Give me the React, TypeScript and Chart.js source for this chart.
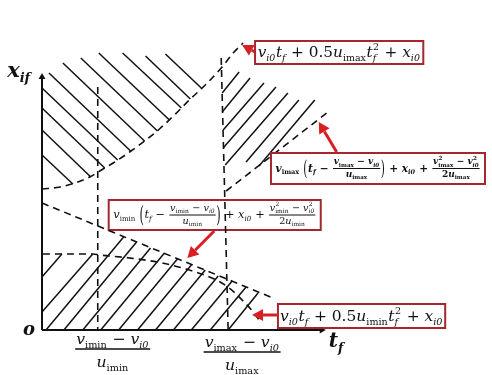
import React, { useEffect, useRef } from 'react';
import { Chart, registerables } from 'chart.js';

Chart.register(...registerables);

// ---------- curve data (t_f on x, x_if on y) ----------
const upperParabolaT = [0, 1.8, 3.3, 4.8, 5.8, 7.3, 8.8, 10.3, 11.8, 13.3, 14.8, 16.3, 18.0, 19.3, 20.2];
const upperParabolaX = [14.1, 14.3, 14.7, 15.3, 15.9, 16.8, 17.8, 18.9, 20.1, 21.5, 23.0, 24.4, 26.2, 27.8, 28.7];
const lowerParabolaT = [0.1, 2.8, 5.1, 5.8, 8.8, 12.1, 14.8, 17.3, 18.8, 20.1, 21.3, 22.0];
const lowerParabolaX = [7.6, 7.6, 7.6, 7.5, 7.2, 6.7, 6.0, 5.1, 4.2, 3.0, 1.7, 0.7];
const vmaxLineT = [18.5, 28.6];
const vmaxLineX = [13.9, 21.7];
const vminLineT = [0, 23.2];
const vminLineX = [12.7, 3.2];
const tMinLineT = [5.6, 5.6];
const tMinLineX = [24.3, 0];
const tMaxLineT = [18.0, 18.7];
const tMaxLineX = [27.2, 0];
const yAxisT = [0, 0];
const yAxisX = [0, 25.3];
const xAxisT = [0, 28.1];
const xAxisX = [0, 0];

// hatch segments [t1, x1, t2, x2]
const hatchUpperLeft = [
  [0, 17.5, 3.1, 14.6],
  [0, 20.0, 4.9, 15.3],
  [0, 22.2, 6.3, 16.2],
  [0, 24.2, 7.6, 17.0],
  [0.7, 25.7, 8.9, 17.9],
  [2.1, 26.7, 10.3, 18.9],
  [3.9, 27.2, 11.6, 19.9],
  [5.7, 27.7, 12.8, 21.0],
  [8.1, 27.7, 14.0, 22.2],
  [10.4, 27.4, 14.9, 23.1],
  [12.4, 27.6, 16.0, 24.2],
];
const hatchUpperRight = [
  [18.1, 23.7, 19.8, 25.8],
  [18.1, 21.8, 20.9, 25.2],
  [18.2, 20.0, 22.3, 24.7],
  [18.2, 18.2, 23.5, 24.3],
  [18.4, 16.5, 24.7, 23.7],
  [20.5, 16.8, 25.8, 23.0],
  [21.8, 16.4, 27.4, 23.0],
];
const hatchLower = [
  [0, 5.3, 2.0, 7.6],
  [0, 1.8, 5.1, 7.6],
  [0.4, 0, 8.2, 9.3],
  [2.2, 0, 9.5, 8.8],
  [4.1, 0, 10.9, 8.2],
  [5.9, 0, 12.3, 7.7],
  [7.7, 0, 13.6, 7.1],
  [9.6, 0, 15.0, 6.5],
  [11.4, 0, 16.4, 6.0],
  [13.2, 0, 17.7, 5.4],
  [15.0, 0, 19.1, 4.9],
  [16.9, 0, 20.5, 4.3],
  [18.7, 0, 21.7, 3.7],
];

// ---------- annotation layout (data units) ----------
const BOX1 = { t0: 21.4, t1: 38.3, y0: 28.9, y1: 26.6, w: 163 };
const BOX2 = { t0: 23.0, t1: 44.5, y0: 17.7, y1: 14.6, w: 205 };
const BOX3 = { t0: 6.7, t1: 28.0, y0: 13.0, y1: 10.0, w: 203 };
const BOX4 = { t0: 23.7, t1: 40.5, y0: 2.6, y1: 0.2, w: 163 };
const ARROWS = [
  [21.4, 27.8, 20.1, 28.5],
  [29.6, 17.8, 27.8, 20.8],
  [17.3, 9.9, 14.6, 7.2],
  [23.8, 1.5, 21.1, 1.5],
];

const FONT_FAMILY = '"DejaVu Serif", "Liberation Serif", serif';
const INK = '#111111';
const BOX_STROKE = '#A3282D';
const ARROW_RED = '#D71F26';

// ---------- tiny math layout ----------
const I = (t: string) => ({ k: 't', t, it: true });
const R = (t: string) => ({ k: 't', t, it: false });
const SS = (sup: any, sub: any) => ({ k: 'ss', sup, sub });
const FR = (num: any[], den: any[]) => ({ k: 'fr', num, den });
const P = (t: string) => ({ k: 'p', t });

function layout(ctx: CanvasRenderingContext2D, nodes: any[], x: number, y: number, F: number, bold: boolean, draw: boolean): number {
  let cx = x;
  for (const n of nodes) {
    if (n.k === 't') {
      ctx.font = `${n.it ? 'italic ' : ''}${bold ? 'bold ' : ''}${F}px ${FONT_FAMILY}`;
      const w = ctx.measureText(n.t).width;
      if (draw) ctx.fillText(n.t, cx, y);
      cx += w;
    } else if (n.k === 'ss') {
      const s = 0.62;
      let w = 0;
      if (n.sup) w = Math.max(w, layout(ctx, n.sup, cx + 0.03 * F, y - 0.45 * F, F * s, bold, draw) + 0.03 * F);
      if (n.sub) w = Math.max(w, layout(ctx, n.sub, cx, y + 0.25 * F, F * s, bold, draw));
      cx += w + 0.04 * F;
    } else if (n.k === 'fr') {
      const fs = F * 0.85;
      const wn = layout(ctx, n.num, 0, 0, fs, bold, false);
      const wd = layout(ctx, n.den, 0, 0, fs, bold, false);
      const pad = 0.12 * F;
      const w = Math.max(wn, wd) + 2 * pad;
      if (draw) {
        const barY = y - 0.3 * F;
        layout(ctx, n.num, cx + (w - wn) / 2, barY - 0.38 * F, fs, bold, true);
        layout(ctx, n.den, cx + (w - wd) / 2, barY + 0.8 * F, fs, bold, true);
        ctx.fillRect(cx + pad * 0.5, barY - 0.5, w - pad, 1);
      }
      cx += w;
    } else if (n.k === 'p') {
      ctx.font = `${F}px ${FONT_FAMILY}`;
      const w = ctx.measureText(n.t).width;
      if (draw) {
        ctx.save();
        ctx.translate(cx, y + 0.33 * F);
        ctx.scale(1, 2.0);
        ctx.fillText(n.t, 0, 0);
        ctx.restore();
      }
      cx += w + 0.05 * F;
    }
  }
  return cx - x;
}

function fitSize(ctx: CanvasRenderingContext2D, nodes: any[], bold: boolean, target: number) {
  const w0 = layout(ctx, nodes, 0, 0, 20, bold, false);
  return (20 * target) / w0;
}

const exprBox1 = [I('v'), SS(null, [I('i0')]), I('t'), SS(null, [I('f')]), R(' + 0.5'), I('u'), SS(null, [R('imax')]), I('t'), SS([R('2')], [I('f')]), R(' + '), I('x'), SS(null, [I('i0')])];
const exprBox4 = [I('v'), SS(null, [I('i0')]), I('t'), SS(null, [I('f')]), R(' + 0.5'), I('u'), SS(null, [R('imin')]), I('t'), SS([R('2')], [I('f')]), R(' + '), I('x'), SS(null, [I('i0')])];
const linExpr = (sub: string) => [
  I('v'), SS(null, [R(sub)]), R(' '), P('('), I('t'), SS(null, [I('f')]), R(' − '),
  FR([I('v'), SS(null, [R(sub)]), R(' − '), I('v'), SS(null, [I('i0')])], [I('u'), SS(null, [R(sub)])]),
  P(')'), R(' + '), I('x'), SS(null, [I('i0')]), R(' + '),
  FR([I('v'), SS([R('2')], [R(sub)]), R(' − '), I('v'), SS([R('2')], [I('i0')])], [R('2'), I('u'), SS(null, [R(sub)])]),
];
const exprBox2 = linExpr('imax');
const exprBox3 = linExpr('imin');
const fracMinNum = [I('v'), SS(null, [R('imin')]), R(' − '), I('v'), SS(null, [I('i0')])];
const fracMinDen = [I('u'), SS(null, [R('imin')])];
const fracMaxNum = [I('v'), SS(null, [R('imax')]), R(' − '), I('v'), SS(null, [I('i0')])];
const fracMaxDen = [I('u'), SS(null, [R('imax')])];

export default function App() {
  const ref = useRef<HTMLCanvasElement | null>(null);
  useEffect(() => {
    const canvas = ref.current;
    if (!canvas) return;
    const toPts = (t: number[], x: number[]) => t.map((v, i) => ({ x: v, y: x[i] }));
    const line = (t: number[], x: number[], dashed: boolean, smooth = false, extra: any = {}) => ({
      type: 'line',
      data: toPts(t, x),
      borderColor: INK,
      borderWidth: 1.6,
      borderDash: dashed ? [7, 5] : [],
      pointRadius: 0,
      fill: false,
      clip: false,
      cubicInterpolationMode: smooth ? 'monotone' : 'default',
      ...extra,
    });
    const hatchSets = [...hatchUpperLeft, ...hatchUpperRight, ...hatchLower].map((s) =>
      line([s[0], s[2]], [s[1], s[3]], false, false, { borderWidth: 1.5 })
    );
    const datasets: any[] = [
      ...hatchSets,
      line(upperParabolaT, upperParabolaX, true, true),
      line(lowerParabolaT, lowerParabolaX, true, true),
      line(vmaxLineT, vmaxLineX, true),
      line(vminLineT, vminLineX, true),
      line(tMinLineT, tMinLineX, true),
      line(tMaxLineT, tMaxLineX, true),
      line(yAxisT, yAxisX, false, false, {
        borderWidth: 2, pointRadius: [0, 4], pointStyle: 'triangle', pointRotation: 0,
        pointBackgroundColor: INK, pointBorderColor: INK, pointBorderWidth: 0,
      }),
      line(xAxisT, xAxisX, false, false, {
        borderWidth: 2, pointRadius: [0, 4], pointStyle: 'triangle', pointRotation: 90,
        pointBackgroundColor: INK, pointBorderColor: INK, pointBorderWidth: 0,
      }),
    ];

    const drawBox = (chart: any, b: any, expr: any[], bold: boolean) => {
      const ctx: CanvasRenderingContext2D = chart.ctx;
      const xs = chart.scales.x, ys = chart.scales.y;
      const l = xs.getPixelForValue(b.t0), r = xs.getPixelForValue(b.t1);
      const t = ys.getPixelForValue(b.y0), btm = ys.getPixelForValue(b.y1);
      ctx.save();
      ctx.fillStyle = '#ffffff';
      ctx.fillRect(l, t, r - l, btm - t);
      ctx.strokeStyle = BOX_STROKE;
      ctx.lineWidth = 2;
      ctx.strokeRect(l, t, r - l, btm - t);
      const F = fitSize(ctx, expr, bold, b.w);
      ctx.fillStyle = INK;
      ctx.textBaseline = 'alphabetic';
      layout(ctx, expr, (l + r) / 2 - b.w / 2, (t + btm) / 2 + 0.3 * F, F, bold, true);
      ctx.restore();
    };

    const drawArrow = (chart: any, a: number[]) => {
      const ctx: CanvasRenderingContext2D = chart.ctx;
      const xs = chart.scales.x, ys = chart.scales.y;
      const x1 = xs.getPixelForValue(a[0]), y1 = ys.getPixelForValue(a[1]);
      const x2 = xs.getPixelForValue(a[2]), y2 = ys.getPixelForValue(a[3]);
      const ang = Math.atan2(y2 - y1, x2 - x1);
      const hl = 11, hw = 6;
      const bx = x2 - hl * Math.cos(ang), by = y2 - hl * Math.sin(ang);
      ctx.save();
      ctx.strokeStyle = ARROW_RED;
      ctx.fillStyle = ARROW_RED;
      ctx.lineWidth = 3;
      ctx.beginPath();
      ctx.moveTo(x1, y1);
      ctx.lineTo(bx, by);
      ctx.stroke();
      ctx.beginPath();
      ctx.moveTo(x2, y2);
      ctx.lineTo(bx + hw * Math.sin(ang), by - hw * Math.cos(ang));
      ctx.lineTo(bx - hw * Math.sin(ang), by + hw * Math.cos(ang));
      ctx.closePath();
      ctx.fill();
      ctx.restore();
    };

    const drawFraction = (chart: any, tc: number, yBar: number, num: any[], den: any[], width: number) => {
      const ctx: CanvasRenderingContext2D = chart.ctx;
      const cx = chart.scales.x.getPixelForValue(tc);
      const by = chart.scales.y.getPixelForValue(yBar);
      const F = fitSize(ctx, num, false, width - 2);
      ctx.save();
      ctx.fillStyle = INK;
      const wn = layout(ctx, num, 0, 0, F, false, false);
      layout(ctx, num, cx - wn / 2, by - 5, F, false, true);
      ctx.fillRect(cx - width / 2, by - 0.75, width, 1.5);
      const wd = layout(ctx, den, 0, 0, F, false, false);
      layout(ctx, den, cx - wd / 2, by + 18, F, false, true);
      ctx.restore();
    };

    const annot = {
      id: 'annot',
      beforeDatasetsDraw(chart: any) {
        drawBox(chart, BOX3, exprBox3, false);
      },
      afterDatasetsDraw(chart: any) {
        const ctx: CanvasRenderingContext2D = chart.ctx;
        const xs = chart.scales.x, ys = chart.scales.y;
        drawBox(chart, BOX1, exprBox1, false);
        drawBox(chart, BOX2, exprBox2, true);
        drawBox(chart, BOX4, exprBox4, false);
        ARROWS.forEach((a) => drawArrow(chart, a));
        ctx.save();
        ctx.fillStyle = INK;
        layout(ctx, [I('x'), SS(null, [I('if')])], xs.getPixelForValue(-3.5), ys.getPixelForValue(25.3), 21, true, true);
        layout(ctx, [I('t'), SS(null, [I('f')])], xs.getPixelForValue(28.8), ys.getPixelForValue(-1.7), 20, true, true);
        layout(ctx, [I('o')], xs.getPixelForValue(-1.9), ys.getPixelForValue(-0.5), 18, true, true);
        ctx.restore();
        drawFraction(chart, 7.1, -1.9, fracMinNum, fracMinDen, 75);
        drawFraction(chart, 20.1, -2.2, fracMaxNum, fracMaxDen, 77);
      },
    };

    const chart = new Chart(canvas, {
      type: 'line',
      data: { datasets },
      options: {
        animation: false,
        responsive: false,
        layout: { padding: { left: 42, right: 2, top: 30, bottom: 45 } },
        scales: {
          x: { type: 'linear', min: 0, max: 44.8, display: false },
          y: { type: 'linear', min: 0, max: 30, display: false },
        },
        plugins: { legend: { display: false }, tooltip: { enabled: false } },
        elements: { line: { tension: 0 } },
      },
      plugins: [annot],
    } as any);
    return () => chart.destroy();
  }, []);

  return (
    <div style={{ position: 'absolute', left: 0, top: 0, width: 492, height: 375, background: '#fff' }}>
      <canvas ref={ref} width={492} height={375} />
    </div>
  );
}
